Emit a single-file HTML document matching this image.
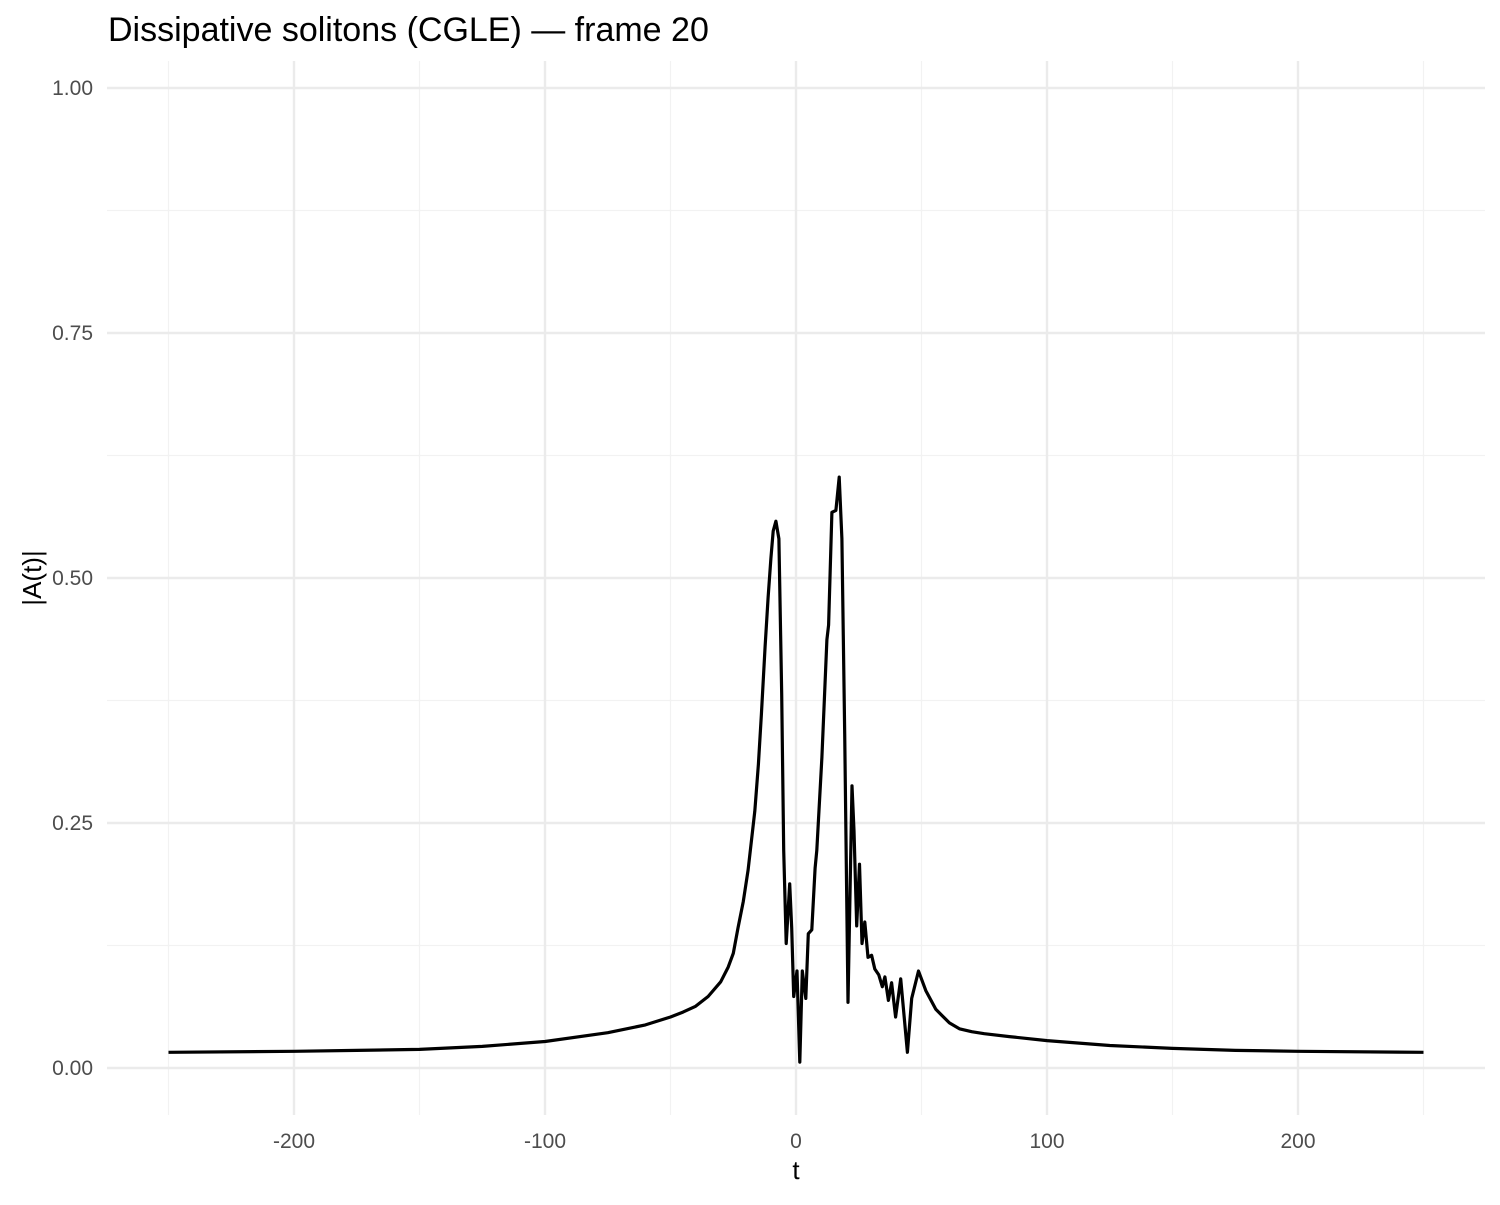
<!DOCTYPE html>
<html><head><meta charset="utf-8"><style>
html,body{margin:0;padding:0;background:#fff;}
svg text{font-family:"Liberation Sans",sans-serif;}
</style></head><body>
<svg id="chart" width="1500" height="1200" xmlns="http://www.w3.org/2000/svg">
<text x="108" y="41" font-size="34" fill="#000">Dissipative solitons (CGLE) — frame 20</text>
<g id="grid"></g>
<g id="axes"></g>
<text x="796" y="1179" font-size="26" text-anchor="middle" fill="#000">t</text>
<text transform="translate(41,578) rotate(-90)" font-size="26" text-anchor="middle" fill="#000">|A(t)|</text>
<path id="series" fill="none" stroke="#000" stroke-width="3.2" stroke-linejoin="round"/>
</svg>
<script>
const tValues = [-250,-200,-175,-150,-125,-100,-75,-60,-50,-45,-40,-35,-30,-27,-25,-23.1,-21,-19.1,-16.4,-15,-13.8,-12.3,-11.1,-10,-9.1,-8.0,-6.8,-5.7,-4.9,-3.9,-2.5,-1.7,-0.9,0.4,1.5,2.5,3.9,4.9,6.3,7.6,8.3,10.3,12.3,13.0,14.3,15.9,17.2,18.3,19.4,20.7,22.3,23.1,24.2,25.3,26.3,27.4,28.7,30.1,31.4,33.0,34.4,35.4,36.8,38.1,39.7,41.7,44.4,46.1,48.8,51.7,55.7,58,61.1,65.1,70,75,85,100,125,150,175,200,250];
const ampValues = [0.016,0.017,0.018,0.019,0.022,0.027,0.036,0.044,0.052,0.057,0.063,0.073,0.088,0.103,0.117,0.143,0.170,0.202,0.262,0.310,0.361,0.430,0.480,0.520,0.548,0.558,0.540,0.381,0.222,0.127,0.188,0.143,0.073,0.099,0.006,0.099,0.071,0.137,0.141,0.204,0.222,0.317,0.437,0.452,0.567,0.569,0.603,0.540,0.341,0.067,0.288,0.242,0.145,0.208,0.127,0.149,0.113,0.115,0.101,0.095,0.083,0.093,0.069,0.087,0.052,0.091,0.016,0.071,0.099,0.079,0.060,0.054,0.046,0.040,0.037,0.035,0.032,0.028,0.023,0.020,0.018,0.017,0.016];
const xMajor = [-200,-100,0,100,200];
const xMinor = [-250,-150,-50,50,150,250];
const yMajor = [0,0.25,0.5,0.75,1.0];
const yMinor = [0.125,0.375,0.625,0.875];
const yLabels = ["0.00","0.25","0.50","0.75","1.00"];

const NS="http://www.w3.org/2000/svg";
const X0=107,X1=1485,Y0=61,Y1=1115;
const xs=t=>796+t*2.51;
const ys=v=>1068-v*980;
const grid=document.getElementById('grid'), axes=document.getElementById('axes');
function line(x1,y1,x2,y2,c,w,name){
  const l=document.createElementNS(NS,'line');
  l.setAttribute('x1',x1);l.setAttribute('y1',y1);l.setAttribute('x2',x2);l.setAttribute('y2',y2);
  l.setAttribute('stroke',c);l.setAttribute('stroke-width',w);
  
  
  grid.appendChild(l);
}
xMinor.forEach(t=>line(xs(t),Y0,xs(t),Y1,'#f2f2f2',1.2,'x-minor-gridline'));
yMinor.forEach(v=>line(X0,ys(v),X1,ys(v),'#f2f2f2',1.2,'y-minor-gridline'));
xMajor.forEach(t=>line(xs(t),Y0,xs(t),Y1,'#ebebeb',2.4,'x-major-gridline'));
yMajor.forEach(v=>line(X0,ys(v),X1,ys(v),'#ebebeb',2.4,'y-major-gridline'));
function txt(x,y,s,anchor,name){
  const e=document.createElementNS(NS,'text');
  e.setAttribute('x',x);e.setAttribute('y',y);e.setAttribute('font-size','21');
  e.setAttribute('fill','#4d4d4d');e.setAttribute('text-anchor',anchor);
  e.textContent=s;
  
  
  axes.appendChild(e);
}
xMajor.forEach(t=>txt(xs(t),1148,String(t),'middle','x-tick-label'));
yMajor.forEach((v,i)=>txt(93,ys(v)+7,yLabels[i],'end','y-tick-label'));
let d='';
tValues.forEach((t,i)=>{d+=(i?'L':'M')+xs(t).toFixed(1)+','+ys(ampValues[i]).toFixed(1);});
document.getElementById('series').setAttribute('d',d);
</script>
</body></html>
